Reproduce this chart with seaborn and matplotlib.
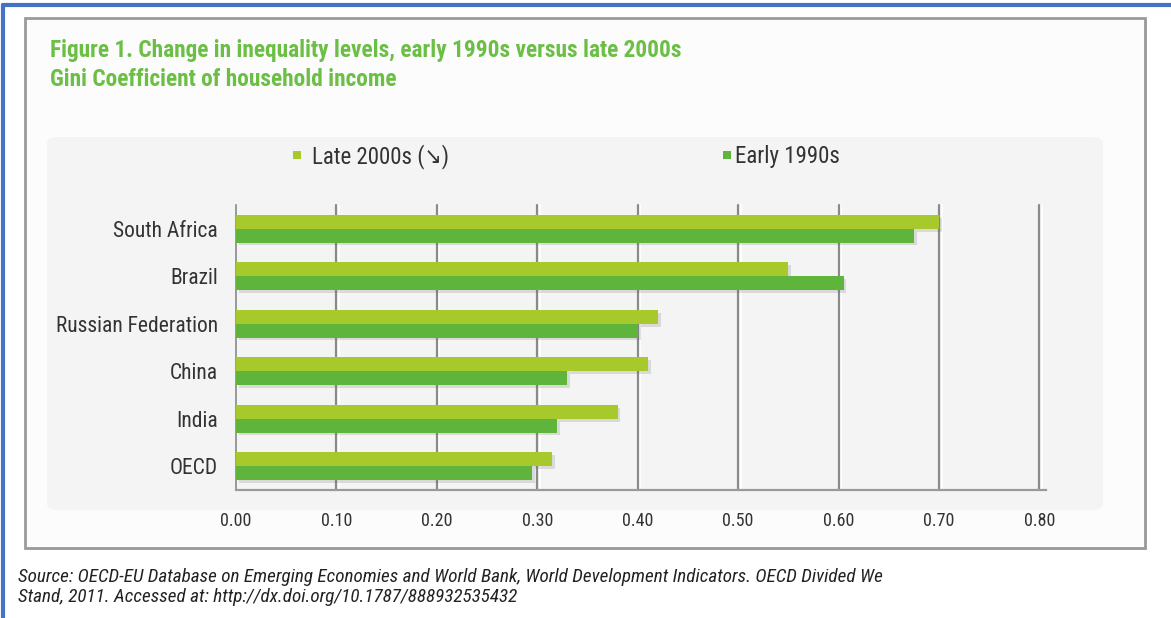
import matplotlib
matplotlib.use("Agg")
import matplotlib.pyplot as plt
import matplotlib.patheffects as pe
import seaborn as sns
import pandas as pd
from matplotlib import font_manager
from matplotlib.patches import Rectangle, FancyBboxPatch
from matplotlib.lines import Line2D

# Gini coefficient of household income
countries = ["South Africa", "Brazil", "Russian Federation", "China", "India", "OECD"]
late_2000s = [0.70, 0.55, 0.42, 0.41, 0.38, 0.315]
early_1990s = [0.675, 0.605, 0.40, 0.33, 0.32, 0.295]
series = ["Late 2000s", "Early 1990s"]
legend_labels = ["Late 2000s (\u2198)", "Early 1990s"]
x_ticks = [0.0, 0.1, 0.2, 0.3, 0.4, 0.5, 0.6, 0.7, 0.8]
x_tick_labels = ["0.00", "0.10", "0.20", "0.30", "0.40", "0.50", "0.60", "0.70", "0.80"]

title_lines = ["Figure 1. Change in inequality levels, early 1990s versus late 2000s",
               "Gini Coefficient of household income"]
source_lines = ["Source: OECD-EU Database on Emerging Economies and World Bank, World Development Indicators. OECD Divided We",
                "Stand, 2011. Accessed at: http://dx.doi.org/10.1787/888932535432"]

df = pd.DataFrame({
    "country": countries * 2,
    "gini": late_2000s + early_1990s,
    "period": [series[0]] * len(countries) + [series[1]] * len(countries),
})

colors = {series[0]: "#a8c92b", series[1]: "#5fb53c"}
title_green = "#6cbf45"
text_dark = "#333333"

sns.set_theme(style="white")
installed = {f.name for f in font_manager.fontManager.ttflist}
candidates = ["Noto Sans Condensed", "Roboto Condensed", "DejaVu Sans Condensed",
              "Liberation Sans Narrow", "Roboto", "DejaVu Sans"]
fam = [f for f in candidates if f in installed]
if "DejaVu Sans" not in fam:
    fam.append("DejaVu Sans")
plt.rcParams["font.family"] = fam
plt.rcParams["font.stretch"] = "condensed"

W, H = 1171, 618
fig = plt.figure(figsize=(W / 100, H / 100), dpi=100)
fig.patch.set_facecolor("white")


def fx(px):
    return px / W


def fy(py):
    return 1 - py / H


# page frame: blue rule at the top and left, grey box around the figure
fig.add_artist(Line2D([fx(3), fx(1171)], [fy(5), fy(5)], color="#4472c4", lw=3))
fig.add_artist(Line2D([fx(3), fx(3)], [fy(5), fy(618)], color="#4472c4", lw=3))
fig.add_artist(Rectangle((fx(27), fy(550)), fx(1147) - fx(27), fy(20) - fy(550),
                         facecolor="#e0e0e0", edgecolor="none", zorder=0))
fig.add_artist(Rectangle((fx(25), fy(548)), fx(1145) - fx(25), fy(18) - fy(548),
                         facecolor="#fcfcfc", edgecolor="#9a9a9a", lw=2, zorder=0.5))
fig.add_artist(FancyBboxPatch((fx(47), fy(510)), fx(1103) - fx(47), fy(137) - fy(510),
                              boxstyle="round,pad=0,rounding_size=0.01",
                              facecolor="#f4f4f4", edgecolor="none", zorder=0.6))

# titles
fig.text(fx(50), fy(51), title_lines[0], color=title_green, fontsize=16.8,
         fontweight="bold", va="center", ha="left", family=fam)
fig.text(fx(50), fy(80), title_lines[1], color=title_green, fontsize=16.8,
         fontweight="bold", va="center", ha="left", family=fam)

# legend
legend_pos = [(297, 312), (727, 735)]
for (mx, tx), lab, s in zip(legend_pos, legend_labels, series):
    fig.add_artist(Rectangle((fx(mx - 4), fy(159)), fx(8), 8 / H,
                             facecolor=colors[s], edgecolor="none", zorder=2))
    fig.text(fx(tx), fy(157), lab, color=text_dark, fontsize=16.5, va="center",
             ha="left", family=fam)

# chart axes
ax = fig.add_axes([fx(236), fy(490), fx(1041) - fx(236), fy(205) - fy(490)])
ax.set_zorder(10)
ax.set_facecolor("none")
sns.barplot(data=df, y="country", x="gini", hue="period", hue_order=series,
            order=countries, orient="h", palette=colors, width=0.58,
            saturation=1, dodge=True, legend=False, ax=ax, zorder=3)

for bar in ax.patches:
    bar.set_edgecolor("none")
    bar.set_path_effects([pe.SimplePatchShadow(offset=(2, -2), alpha=0.18,
                                               shadow_rgbFace="#606060"),
                          pe.Normal()])

ax.set_xlim(0, 0.8015)
ax.set_ylim(len(countries) - 0.5, -0.5)
ax.set_xticks(x_ticks)
ax.set_xticklabels(x_tick_labels, fontsize=13, color=text_dark, family=fam)
ax.set_yticks(range(len(countries)))
ax.set_yticklabels(countries, fontsize=15.5, color=text_dark, family=fam)
ax.set_xlabel("")
ax.set_ylabel("")
ax.tick_params(axis="x", length=0, pad=16)
ax.tick_params(axis="y", which="major", length=0, pad=13)
ax.set_yticks([i - 0.5 for i in range(len(countries) + 1)], minor=True)
ax.tick_params(axis="y", which="minor", length=4, width=1, color="#888888", direction="out")

for xv in x_ticks[1:]:
    ax.axvline(xv, color="#8a8a8a", lw=1.6, zorder=1, clip_on=False)
    ax.axvline(xv + 0.0025, color="white", lw=1.2, zorder=0.9, clip_on=False)

for side in ["top", "right"]:
    ax.spines[side].set_visible(False)
ax.spines["left"].set_color("#8a8a8a")
ax.spines["left"].set_linewidth(1.2)
ax.spines["bottom"].set_color("#9a9a9a")
ax.spines["bottom"].set_linewidth(1.6)
ax.spines["bottom"].set_bounds(0, 0.806)

# source note
fig.text(fx(18), fy(577), source_lines[0], color="#222222", fontsize=13.8,
         style="italic", va="center", ha="left", family=fam)
fig.text(fx(18), fy(597), source_lines[1], color="#222222", fontsize=13.8,
         style="italic", va="center", ha="left", family=fam)

fig.savefig("out.png", dpi=100, facecolor=fig.get_facecolor())
